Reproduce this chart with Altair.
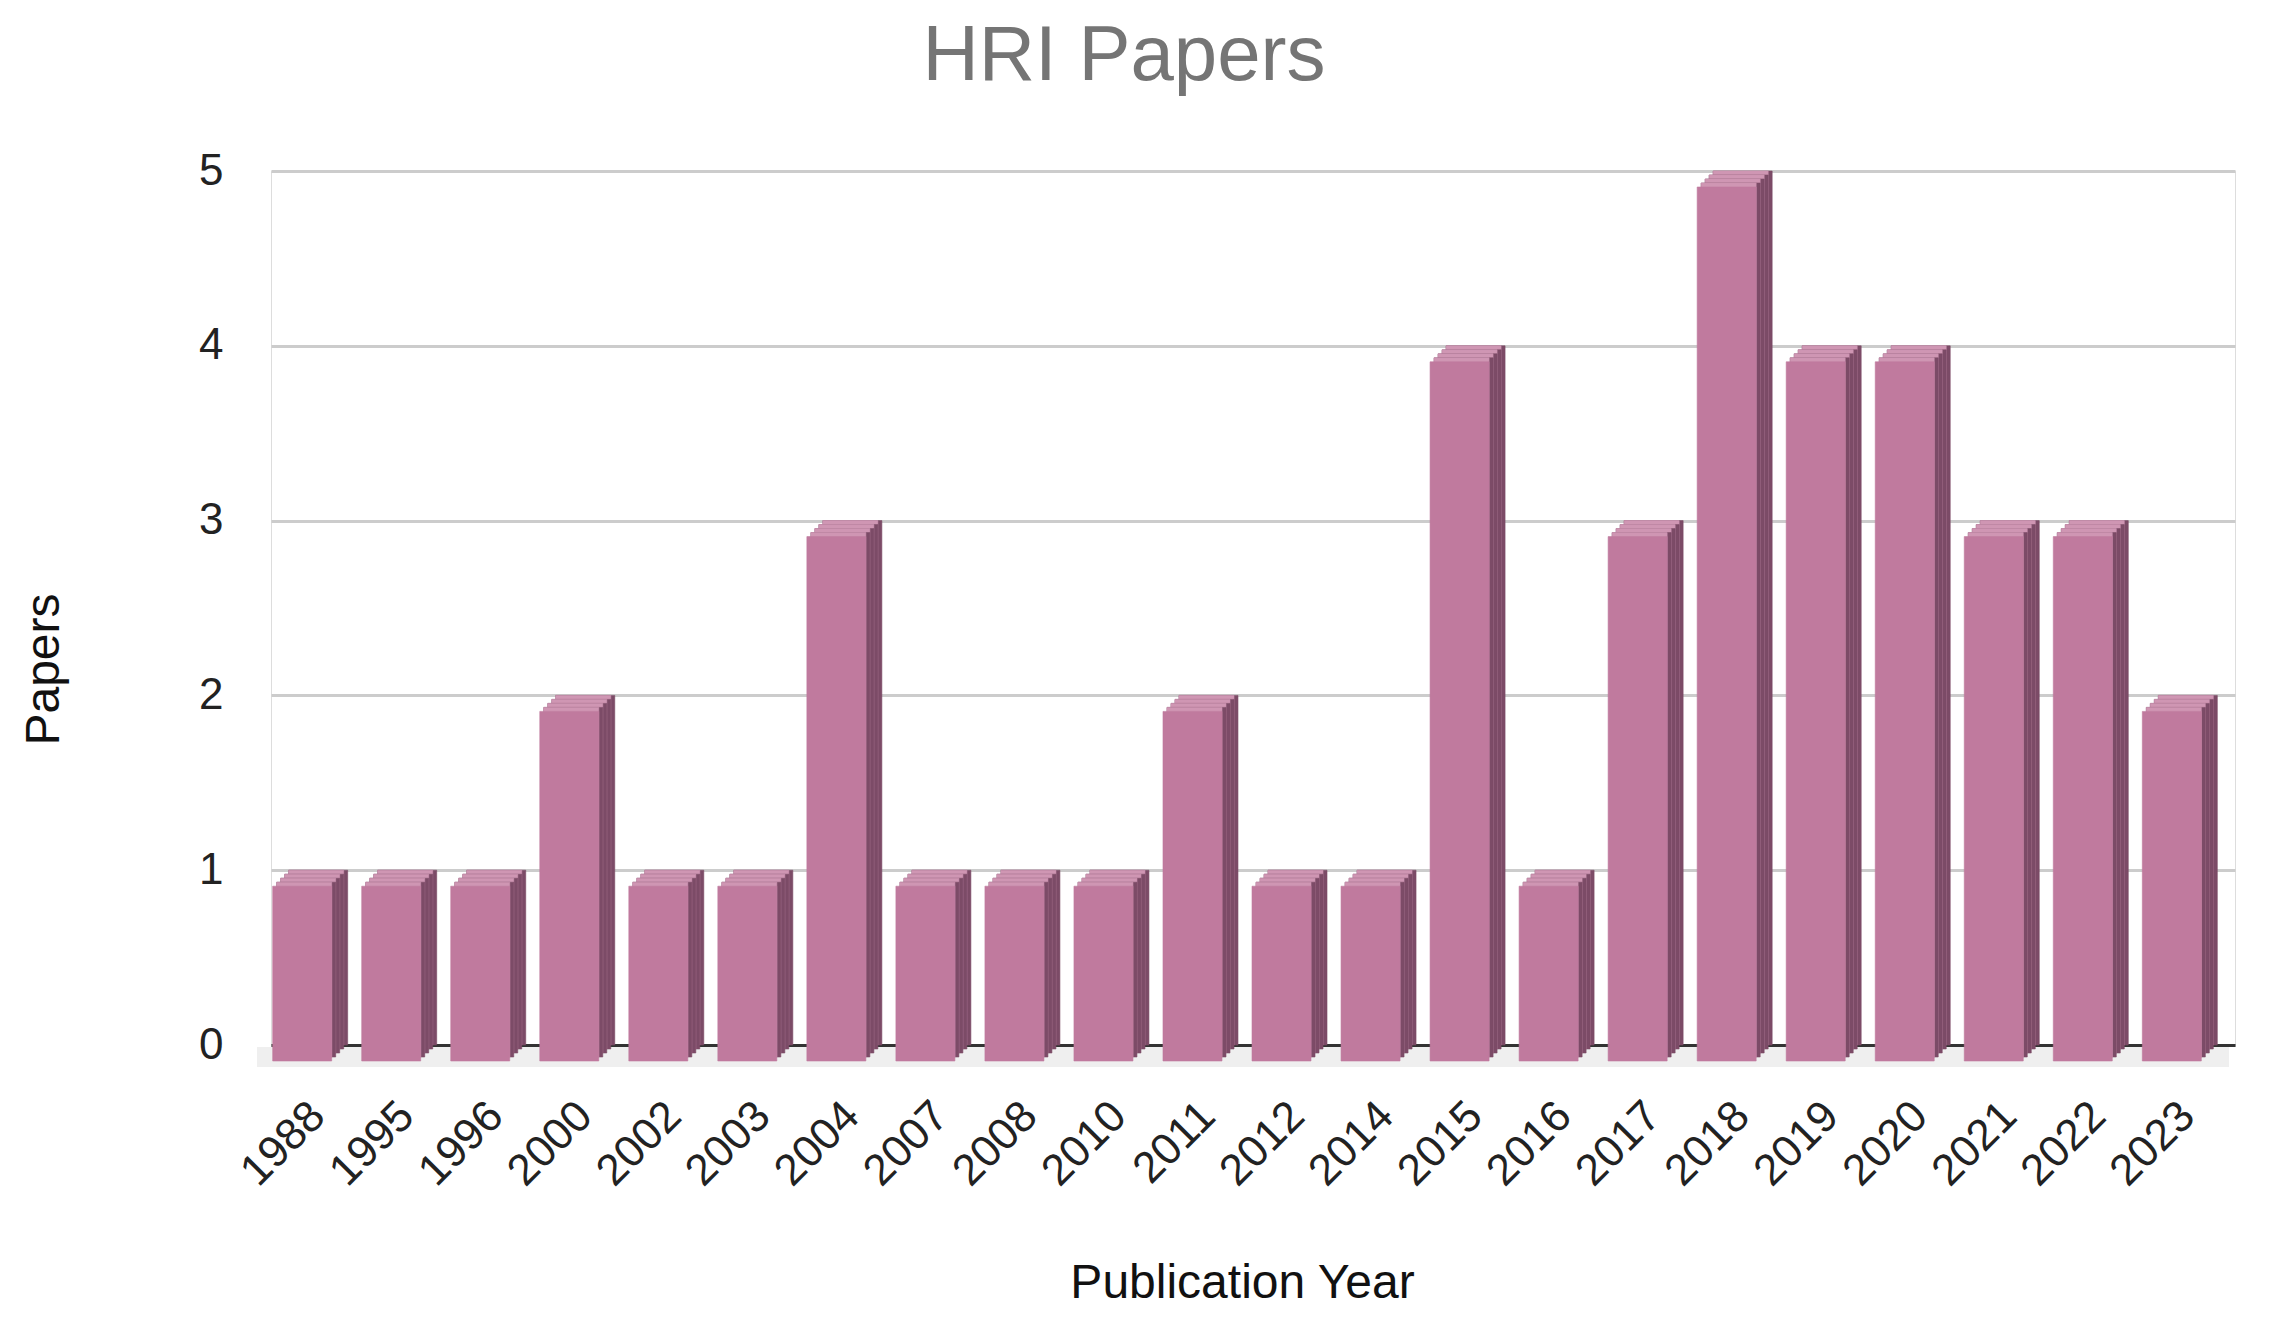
import altair as alt
import pandas as pd

years = ["1988", "1995", "1996", "2000", "2002", "2003", "2004", "2007", "2008", "2010", "2011",
         "2012", "2014", "2015", "2016", "2017", "2018", "2019", "2020", "2021", "2022", "2023"]
papers = [1, 1, 1, 2, 1, 1, 3, 1, 1, 1, 2, 1, 1, 4, 1, 3, 5, 4, 4, 3, 3, 2]

df = pd.DataFrame({"year": years, "papers": papers})

FONT = "Liberation Sans"
FRONT = "#c07a9e"
TOP = "#cf96b3"
SIDE = "#7c4b67"
W = 59
DEPTH = 16
STEP = 4

x_enc = alt.X(
    "year:N",
    sort=years,
    scale=alt.Scale(paddingInner=0.34, paddingOuter=0.2),
    axis=alt.Axis(
        title="Publication Year",
        labelAngle=315,
        labelAlign="right",
        labelBaseline="middle",
        labelFontSize=44,
        labelFont=FONT,
        labelColor="#222222",
        labelPadding=64,
        ticks=False,
        domain=True,
        domainColor="#333333",
        domainWidth=3,
        titleFont=FONT,
        titleFontSize=48,
        titleFontWeight="normal",
        titleColor="#111111",
        titleX=971,
        titleY=238,
        titleAlign="center",
        titleBaseline="middle",
    ),
)
y_enc = alt.Y(
    "papers:Q",
    scale=alt.Scale(domain=[0, 5], nice=False),
    axis=alt.Axis(
        title="Papers",
        values=[0, 1, 2, 3, 4, 5],
        format="d",
        grid=True,
        gridColor="#cccccc",
        gridWidth=3,
        domain=False,
        ticks=False,
        labelFontSize=44,
        labelFont=FONT,
        labelColor="#222222",
        labelPadding=48,
        labelBaseline="middle",
        titleFont=FONT,
        titleFontSize=48,
        titleFontWeight="normal",
        titleColor="#111111",
        titleAngle=270,
        titleX=-227,
        titleY=498,
        titleAlign="center",
        titleBaseline="middle",
    ),
)

base = alt.Chart(df).encode(x=x_enc, y=y_enc, y2=alt.datum(0))

# floor under the bars
floor = alt.Chart(df).mark_rect(color="#efefef").encode(
    x=alt.value(-14), x2=alt.value(1958),
    y=alt.value(876), y2=alt.value(896),
)

layers = [floor]
for d in range(0, DEPTH, STEP):
    layers.append(base.mark_bar(color=SIDE, stroke=SIDE, strokeWidth=0.6,
                                width=W, xOffset=-d, yOffset=d, y2Offset=d))
    layers.append(base.mark_bar(color=TOP, stroke=TOP, strokeWidth=0.6,
                                width=W - STEP, xOffset=-d - STEP / 2, yOffset=d, y2Offset=d))
layers.append(base.mark_bar(color=FRONT, stroke=FRONT, strokeWidth=0.6,
                            width=W, xOffset=-DEPTH, yOffset=DEPTH, y2Offset=DEPTH))

chart = alt.layer(*layers).properties(
    width=1964,
    height=874,
    autosize=alt.AutoSizeParams(type="none"),
    padding={"left": 263, "top": 163, "right": 20, "bottom": 268},
    title=alt.TitleParams(
        "HRI Papers",
        fontSize=78,
        font=FONT,
        fontWeight="normal",
        color="#757575",
        anchor="middle",
        frame="group",
        dx=-129,
        offset=53,
    ),
).configure_view(stroke=None).configure(background="white")

chart.save("out.html", embed_options={"renderer": "svg", "actions": False})
